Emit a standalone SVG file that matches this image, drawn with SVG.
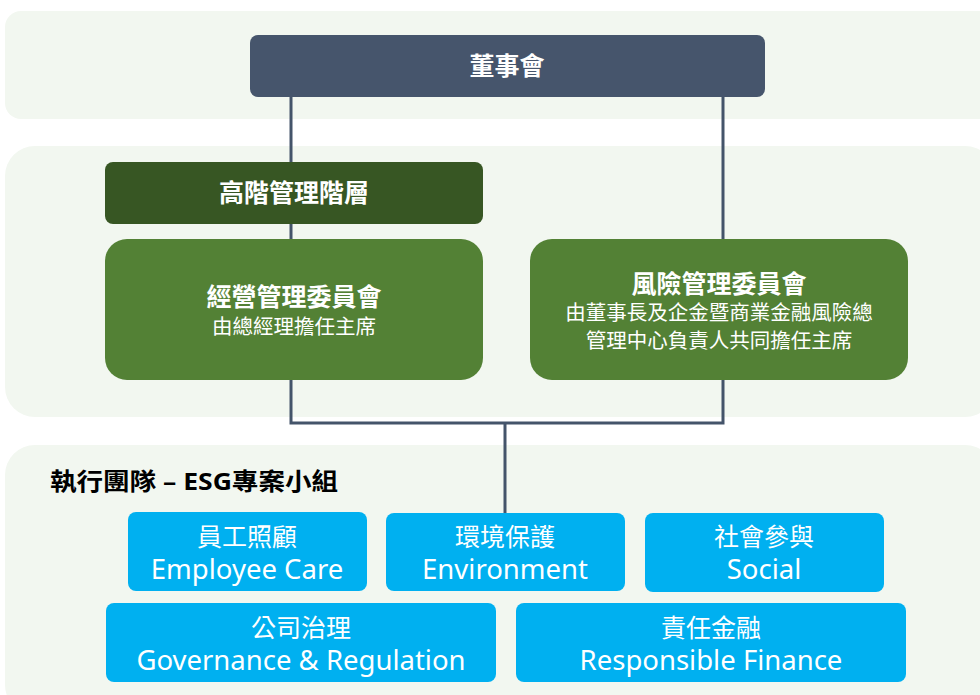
<svg xmlns="http://www.w3.org/2000/svg" width="980" height="695" viewBox="0 0 980 695">
<style>
.panel{fill:#f2f7f0}
.t{font-family:"Noto Sans","Noto Sans CJK TC",sans-serif;fill:#fff;text-anchor:middle}
.b{font-weight:bold}
.blue{fill:#00b0f0}
.green{fill:#538135}
.zh{font-size:25px}
.en{font-size:27.5px}
.conn{fill:none;stroke:#44546a;stroke-width:3}
</style>
<rect width="980" height="695" fill="#fff"/>
<g id="panels">
<rect class="panel" x="5" y="11" width="990" height="108" rx="16"/>
<rect class="panel" x="5" y="146" width="990" height="271" rx="30"/>
<rect class="panel" x="5" y="445" width="990" height="270" rx="30"/>
</g>
<g id="connectors">
<path class="conn" d="M291,97 V423 H723 V97 M505,423 V513"/>
</g>
<g id="board">
<rect x="250" y="35" width="515" height="62" rx="8" fill="#46556c"/>
<text class="t b" x="507" y="75" font-size="25">董事會</text>
</g>
<g id="senior">
<rect x="105" y="162" width="378" height="62" rx="8" fill="#375623"/>
<text class="t b" x="294" y="202" font-size="25">高階管理階層</text>
</g>
<g id="mgmt">
<rect class="green" x="105" y="239" width="378" height="141" rx="22"/>
<text class="t b" x="294" y="306" font-size="25">經營管理委員會</text>
<text class="t" x="294" y="334" font-size="20.5">由總經理擔任主席</text>
</g>
<g id="risk">
<rect class="green" x="530" y="239" width="378" height="141" rx="22"/>
<text class="t b" x="719" y="293" font-size="25">風險管理委員會</text>
<text class="t" x="719" y="320" font-size="20.5">由董事長及企金暨商業金融風險總</text>
<text class="t" x="719" y="348" font-size="20.5">管理中心負責人共同擔任主席</text>
</g>
<g id="team-label">
<text x="50" y="490" font-family="Noto Sans,'Noto Sans CJK TC',sans-serif" font-weight="bold" font-size="24" fill="#000" textLength="288" lengthAdjust="spacingAndGlyphs">執行團隊 – ESG專案小組</text>
</g>
<g id="employee">
<rect class="blue" x="128" y="512" width="239" height="79" rx="8"/>
<text class="t zh" x="247" y="546">員工照顧</text>
<text class="t en" x="247" y="579">Employee Care</text>
</g>
<g id="environment">
<rect class="blue" x="386" y="513" width="239" height="78" rx="8"/>
<text class="t zh" x="505" y="546">環境保護</text>
<text class="t en" x="505" y="579">Environment</text>
</g>
<g id="social">
<rect class="blue" x="645" y="513" width="239" height="79" rx="8"/>
<text class="t zh" x="764" y="546">社會參與</text>
<text class="t en" x="764" y="579">Social</text>
</g>
<g id="governance">
<rect class="blue" x="106" y="603" width="390" height="79" rx="8"/>
<text class="t zh" x="301" y="637">公司治理</text>
<text class="t en" x="301" y="670">Governance &amp; Regulation</text>
</g>
<g id="finance">
<rect class="blue" x="516" y="603" width="390" height="79" rx="8"/>
<text class="t zh" x="711" y="637">責任金融</text>
<text class="t en" x="711" y="670">Responsible Finance</text>
</g>
</svg>
